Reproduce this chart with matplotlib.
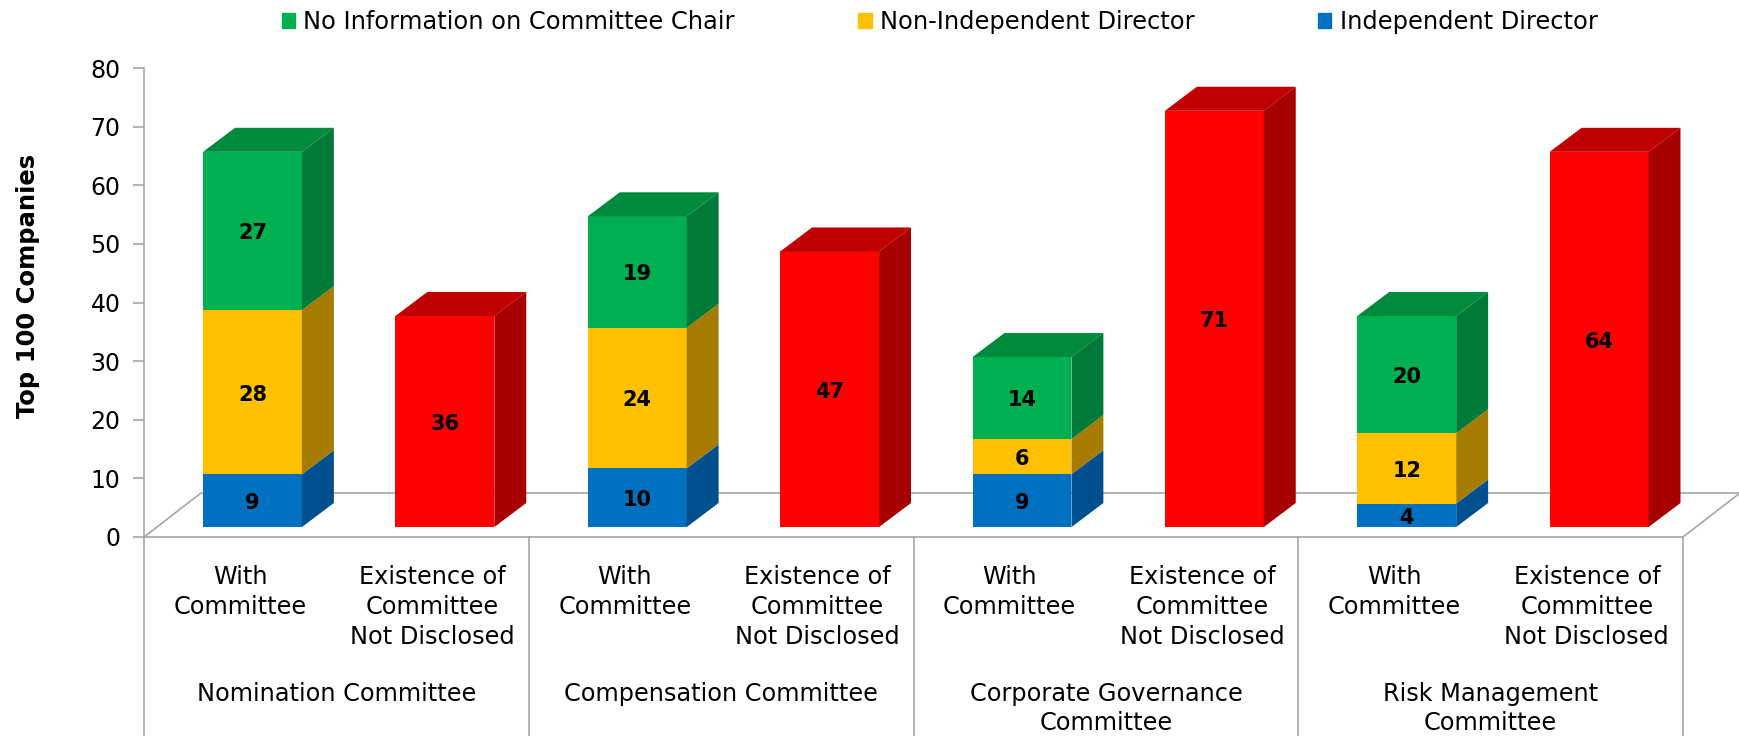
import matplotlib.pyplot as plt
from matplotlib.patches import Patch, Polygon
from matplotlib.transforms import blended_transform_factory

committees = ['Nomination Committee', 'Compensation Committee',
              'Corporate Governance\nCommittee', 'Risk Management\nCommittee']
bar_labels = ['With\nCommittee', 'Existence of\nCommittee\nNot Disclosed']
independent = [9, 10, 9, 4]
non_independent = [28, 24, 6, 12]
no_information = [27, 19, 14, 20]
not_disclosed = [36, 47, 71, 64]
yticks = [0, 10, 20, 30, 40, 50, 60, 70, 80]

BLUE = ('#0070C0', '#00508F', '#005C9E')
YELLOW = ('#FFC000', '#A67C00', '#C49400')
GREEN = ('#00B050', '#007A38', '#008A3E')
RED = ('#FF0000', '#A60000', '#C00000')

# fake 3D: front faces sit a little above the floor edge
BASE = 1.7
DX = 0.166
DY = 4.1
WIDTH = 0.514
GRAY = '#A6A6A6'

plt.rc('font', family='DejaVu Sans', size=17)

fig = plt.figure(figsize=(17.4, 7.36), dpi=100)
ax = fig.add_axes([144 / 1740, 1 - 537 / 736, 1539 / 1740, 469 / 736])
ax.set_xlim(-0.5, 7.5)
ax.set_ylim(0, 80)


def draw_segment(x, bottom, height, colors, top=False):
    left = x - WIDTH / 2
    right = x + WIDTH / 2
    y0 = BASE + bottom
    y1 = y0 + height
    ax.bar(x, height, WIDTH, bottom=y0, color=colors[0], zorder=3)
    ax.add_patch(Polygon([(right, y0), (right + DX, y0 + DY),
                          (right + DX, y1 + DY), (right, y1)],
                         facecolor=colors[1], edgecolor='none', zorder=3))
    if top:
        ax.add_patch(Polygon([(left, y1), (left + DX, y1 + DY),
                              (right + DX, y1 + DY), (right, y1)],
                             facecolor=colors[2], edgecolor='none', zorder=3))
    ax.text(x, y0 + height / 2 - 0.4, str(height), ha='center', va='center',
            fontsize=15, fontweight='bold', color='black', zorder=4)


# floor of the chart
ax.plot([-0.5, -0.5 + 0.296, 7.5 + 0.296, 7.5], [0, 7.5, 7.5, 0],
        color=GRAY, linewidth=1.2, zorder=1, clip_on=False)

for i in range(4):
    x = 2 * i + 0.064
    bottom = 0
    for vals, colors in [(independent, BLUE), (non_independent, YELLOW)]:
        draw_segment(x, bottom, vals[i], colors)
        bottom += vals[i]
    draw_segment(x, bottom, no_information[i], GREEN, top=True)
    draw_segment(2 * i + 1 + 0.064, 0, not_disclosed[i], RED, top=True)

# axes
for side in ['top', 'right']:
    ax.spines[side].set_visible(False)
ax.spines['left'].set_color(GRAY)
ax.spines['bottom'].set_color(GRAY)
ax.spines['left'].set_linewidth(1.2)
ax.spines['bottom'].set_linewidth(1.2)
ax.set_yticks(yticks)
ax.tick_params(axis='y', length=8, width=1.2, color=GRAY, labelsize=17, pad=9)

ax.set_xticks(range(8))
ax.set_xticklabels(bar_labels * 4, linespacing=1.31)
ax.tick_params(axis='x', length=0, labelsize=17.3, pad=20)

ax.set_ylabel('Top 100 Companies', fontsize=17.5, fontweight='bold')
ax.yaxis.set_label_coords(-0.0676, 0.535)

# multi level category axis below the floor
trans = blended_transform_factory(ax.transData, ax.transAxes)
for i in range(5):
    ax.plot([2 * i - 0.5, 2 * i - 0.5], [0, -0.43], color=GRAY, linewidth=1.2,
            transform=trans, clip_on=False)
for i, name in enumerate(committees):
    ax.text(2 * i + 0.5, -0.309, name, transform=trans, ha='center', va='top',
            fontsize=17.3, linespacing=1.25)

handles = [Patch(color=GREEN[0]), Patch(color=YELLOW[0]), Patch(color=BLUE[0])]
fig.legend(handles,
           ['No Information on Committee Chair', 'Non-Independent Director',
            'Independent Director'],
           loc='center', bbox_to_anchor=(0.54, 0.97), ncol=3, frameon=False,
           fontsize=17.4, handlelength=0.55, handleheight=0.55, handletextpad=0.35,
           columnspacing=5.1)

fig.savefig('out.png', dpi=100)
